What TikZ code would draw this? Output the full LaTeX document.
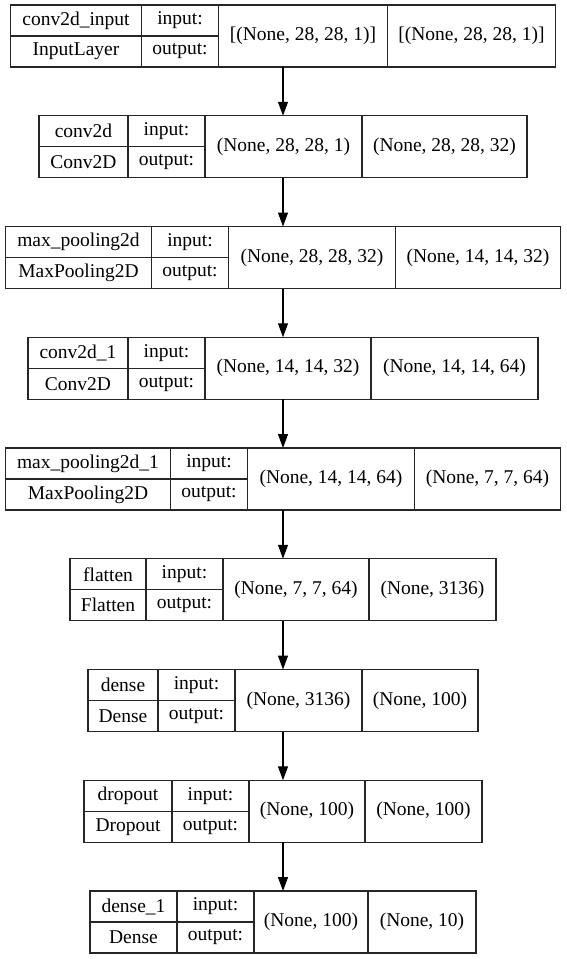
\documentclass[tikz,border=0pt]{standalone}
\usepackage{fontspec}
\setmainfont{Liberation Serif}
\usetikzlibrary{arrows.meta}

% one keras layer record: id, top, name width, name, class, in width, in shape, out width, out shape
\newcommand{\kerasrow}[9]{%
  \pgfmathsetmacro{\rowwidth}{#3+77+#6+#8}
  \node[rowbox, minimum width=\rowwidth pt] (#1) at (283,-#2-31) {};
  \node[cell, minimum width=#3pt, anchor=north west] (#1-name) at (#1.north west) {#4};
  \node[cell, minimum width=#3pt, anchor=north] (#1-class) at (#1-name.south) {#5};
  \node[cell, minimum width=77pt, anchor=north west] (#1-in) at (#1-name.north east) {input:};
  \node[cell, minimum width=77pt, anchor=north] (#1-out) at (#1-in.south) {output:};
  \node[shapecell, minimum width=#6pt, anchor=north west] (#1-ishape) at (#1-in.north east) {#7};
  \node[shapecell, minimum width=#8pt, anchor=north west] (#1-oshape) at (#1-ishape.north east) {#9};
}

\begin{document}
\begin{tikzpicture}[
  x=1pt, y=1pt,
  font=\fontsize{19.5}{22}\selectfont,
  rowbox/.style={inner sep=0pt, outer sep=0pt, minimum height=62pt},
  cell/.style={
    draw=black!85,
    line width=1.2pt,
    inner sep=0pt,
    outer sep=0pt,
    minimum height=31pt
  },
  shapecell/.style={cell, minimum height=62pt},
  flow/.style={-{Triangle[length=14pt,width=10pt]}, line width=1.2pt, draw=black}
]

\useasboundingbox (0,0) rectangle (567,-959);

\kerasrow{input}{5}{131}{conv2d\_input}{InputLayer}{169}{[(None, 28, 28, 1)]}{168}{[(None, 28, 28, 1)]}
\kerasrow{conv}{115.75}{89}{conv2d}{Conv2D}{157}{(None, 28, 28, 1)}{165}{(None, 28, 28, 32)}
\kerasrow{pool}{226.5}{146}{max\_pooling2d}{MaxPooling2D}{167}{(None, 28, 28, 32)}{165}{(None, 14, 14, 32)}
\kerasrow{conv1}{337.25}{100}{conv2d\_1}{Conv2D}{166}{(None, 14, 14, 32)}{167}{(None, 14, 14, 64)}
\kerasrow{pool1}{448}{165}{max\_pooling2d\_1}{MaxPooling2D}{167}{(None, 14, 14, 64)}{146}{(None, 7, 7, 64)}
\kerasrow{flatten}{558.75}{76}{flatten}{Flatten}{146}{(None, 7, 7, 64)}{127}{(None, 3136)}
\kerasrow{dense}{669.5}{70}{dense}{Dense}{127}{(None, 3136)}{116}{(None, 100)}
\kerasrow{dropout}{780.25}{88}{dropout}{Dropout}{116}{(None, 100)}{117}{(None, 100)}
\kerasrow{dense1}{891}{87}{dense\_1}{Dense}{114}{(None, 100)}{108}{(None, 10)}

\draw[flow] (input) -- (conv);
\draw[flow] (conv) -- (pool);
\draw[flow] (pool) -- (conv1);
\draw[flow] (conv1) -- (pool1);
\draw[flow] (pool1) -- (flatten);
\draw[flow] (flatten) -- (dense);
\draw[flow] (dense) -- (dropout);
\draw[flow] (dropout) -- (dense1);

\end{tikzpicture}
\end{document}
